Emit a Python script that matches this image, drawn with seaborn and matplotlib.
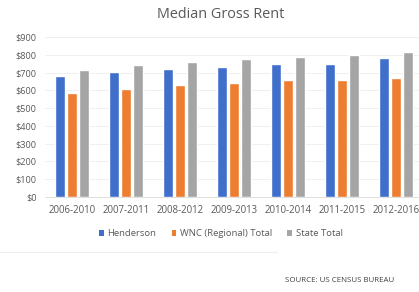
import numpy as np
import pandas as pd
import matplotlib
matplotlib.use('Agg')
import matplotlib.pyplot as plt
from matplotlib.lines import Line2D
from matplotlib.patches import Patch
import seaborn as sns

periods = ['2006-2010', '2007-2011', '2008-2012', '2009-2013', '2010-2014', '2011-2015', '2012-2016']
henderson = [682, 704, 722, 732, 747, 747, 783]
wnc = [587, 610, 632, 644, 659, 657, 670]
state = [717, 741, 760, 774, 785, 796, 815]
series = ['Henderson', 'WNC (Regional) Total', 'State Total']
colors = ['#3F6FCB', '#ED7D31', '#A5A5A5']

df = pd.DataFrame({
    'period': periods * 3,
    'rent': henderson + wnc + state,
    'series': [s for s in series for _ in periods],
})

sns.set_style('white')
plt.rcParams['font.family'] = ['Open Sans', 'DejaVu Sans']

fig = plt.figure(figsize=(4.19, 2.92), dpi=100)
ax = fig.add_axes([45 / 419, 1 - 197 / 292, 378 / 419, 160 / 292])

sns.barplot(data=df, x='period', y='rent', hue='series', palette=colors,
            width=0.66, gap=0.12, ax=ax, legend=False, saturation=1)

ax.set_ylim(0, 900)
ax.set_xlim(-0.5, 6.5)
ax.set_yticks(range(0, 901, 100))
ax.set_yticklabels(['$' + str(v) for v in range(0, 901, 100)])
ax.set_xlabel('')
ax.set_ylabel('')
ax.tick_params(axis='both', length=0, labelcolor='#595959')
ax.tick_params(axis='y', pad=6, labelsize=6.6)
ax.tick_params(axis='x', pad=6, labelsize=6.9)
ax.yaxis.grid(True, color='#EEEEEE', linewidth=0.6)
ax.set_axisbelow(True)
for s in ['top', 'right', 'left']:
    ax.spines[s].set_visible(False)
ax.spines['bottom'].set_color('#D9D9D9')
ax.spines['bottom'].set_linewidth(0.6)

fig.text(221 / 419, 1 - 15 / 292, 'Median Gross Rent', ha='center', va='center',
         fontsize=10.4, color='#595959')

handles = [Patch(facecolor=c, edgecolor='none') for c in colors]
fig.legend(handles, series, loc='center', bbox_to_anchor=(221 / 419, 1 - 234 / 292),
           ncol=3, frameon=False, fontsize=6.8, labelcolor='#595959',
           handlelength=0.5, handleheight=0.5, handletextpad=0.4, columnspacing=1.6)

fig.add_artist(Line2D([0, 277 / 419], [1 - 252 / 292, 1 - 252 / 292],
                      color='#EEEEEE', linewidth=0.8))
fig.text(340 / 419, 1 - 281 / 292, 'SOURCE: US CENSUS BUREAU', ha='center', va='center',
         fontsize=5.7, color='#404040')

fig.savefig('out.png', dpi=100)
